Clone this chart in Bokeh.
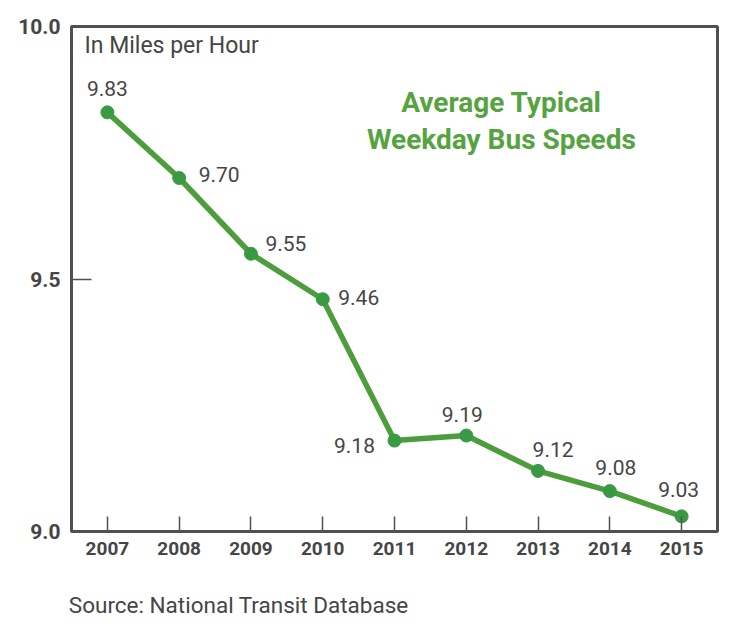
from bokeh.plotting import figure
from bokeh.models import (ColumnDataSource, FixedTicker, LabelSet, Label, Range1d,
                          LinearAxis)
from bokeh.core.properties import value
from bokeh.embed import file_html
from bokeh.resources import INLINE

# ---- data ----
years = [2007, 2008, 2009, 2010, 2011, 2012, 2013, 2014, 2015]
speeds = [9.83, 9.70, 9.55, 9.46, 9.18, 9.19, 9.12, 9.08, 9.03]
speed_labels = ["9.83", "9.70", "9.55", "9.46", "9.18", "9.19", "9.12", "9.08", "9.03"]
year_tick_labels = ["2007", "2008", "2009", "2010", "2011", "2012", "2013", "2014", "2015"]
y_ticks = [9.0, 9.5, 10.0]
y_tick_labels = ["9.0", "9.5", "10.0"]
title_lines = ["Average Typical", "Weekday Bus Speeds"]
unit_text = "In Miles per Hour"
source_text = "Source: National Transit Database"

# ---- styling (label offsets in screen px) ----
label_dx = [0, 40, 35, 36, -40, -4, 15, 6, -3]
label_dy = [24, 4, 10, 2, -5, 21, 21, 24, 27]
SOURCE_ANCHOR_X = 2008.83   # horizontal anchor (centre) of the source note

FONT = "Roboto"
TXT = "#454545"
AXIS = "#505050"
GREEN_LINE = "#4c9e3c"
GREEN_DOT = "#3a9a44"
GREEN_TITLE = "#55a341"

src = ColumnDataSource(dict(year=years, speed=speeds, lab=speed_labels,
                            dx=label_dx, dy=label_dy))

p = figure(width=738, height=626, output_backend="svg", toolbar_location=None,
           x_range=Range1d(2006.5, 2015.5), y_range=Range1d(9.0, 10.0),
           min_border_left=71, min_border_right=21, min_border_top=26,
           min_border_bottom=95)
p.background_fill_color = "white"
p.border_fill_color = "white"
p.xgrid.visible = False
p.ygrid.visible = False
p.outline_line_color = AXIS
p.outline_line_width = 3

# axes
p.xaxis.ticker = FixedTicker(ticks=years)
p.xaxis.major_label_overrides = {y: l for y, l in zip(years, year_tick_labels)}
p.yaxis.ticker = FixedTicker(ticks=y_ticks)
p.yaxis.major_label_overrides = {y: l for y, l in zip(y_ticks, y_tick_labels)}
for ax in (p.xaxis, p.yaxis):
    ax.axis_line_color = AXIS
    ax.axis_line_width = 3
    ax.major_tick_line_color = AXIS
    ax.major_tick_line_width = 1.5
    ax.major_tick_out = 0
    ax.minor_tick_line_color = None
    ax.major_label_text_font = FONT
    ax.major_label_text_font_style = "bold"
    ax.major_label_text_color = TXT
p.xaxis.major_tick_in = 15
p.yaxis.major_tick_in = 20
p.xaxis.major_label_text_font_size = "19px"
p.yaxis.major_label_text_font_size = "21px"
p.xaxis.major_label_standoff = 10
p.yaxis.major_label_standoff = 11

# source note: a bare second axis below the year axis
src_axis = LinearAxis(ticker=FixedTicker(ticks=[SOURCE_ANCHOR_X]),
                      major_label_overrides={SOURCE_ANCHOR_X: source_text},
                      axis_line_color=None, major_tick_line_color=None,
                      minor_tick_line_color=None, major_tick_in=0, major_tick_out=0,
                      major_label_standoff=34, major_label_text_font=FONT,
                      major_label_text_font_style="normal",
                      major_label_text_font_size="22.5px",
                      major_label_text_color=TXT)
p.add_layout(src_axis, "below")

# data
p.line("year", "speed", source=src, line_width=5.5, line_color=GREEN_LINE,
       line_join="round")
p.scatter("year", "speed", source=src, size=13, fill_color=GREEN_DOT,
          line_color=GREEN_DOT)

labels = LabelSet(x="year", y="speed", text="lab", source=src,
                  x_offset="dx", y_offset="dy",
                  text_align="center", text_baseline="middle",
                  text_font=value(FONT), text_font_size="21px", text_color=TXT)
p.add_layout(labels)

# texts
p.add_layout(Label(x=2006.5, y=10.0, x_offset=13, y_offset=-19, text=unit_text,
                   text_align="left", text_baseline="middle", text_font=FONT,
                   text_font_size="23px", text_color=TXT))
p.add_layout(Label(x=2012.49, y=10.0, y_offset=-76, text=title_lines[0],
                   text_align="center", text_baseline="middle", text_font=FONT,
                   text_font_style="bold", text_font_size="28px",
                   text_color=GREEN_TITLE))
p.add_layout(Label(x=2012.49, y=10.0, y_offset=-113, text=title_lines[1],
                   text_align="center", text_baseline="middle", text_font=FONT,
                   text_font_style="bold", text_font_size="28px",
                   text_color=GREEN_TITLE))

open("out.html", "w").write(file_html(p, INLINE))
